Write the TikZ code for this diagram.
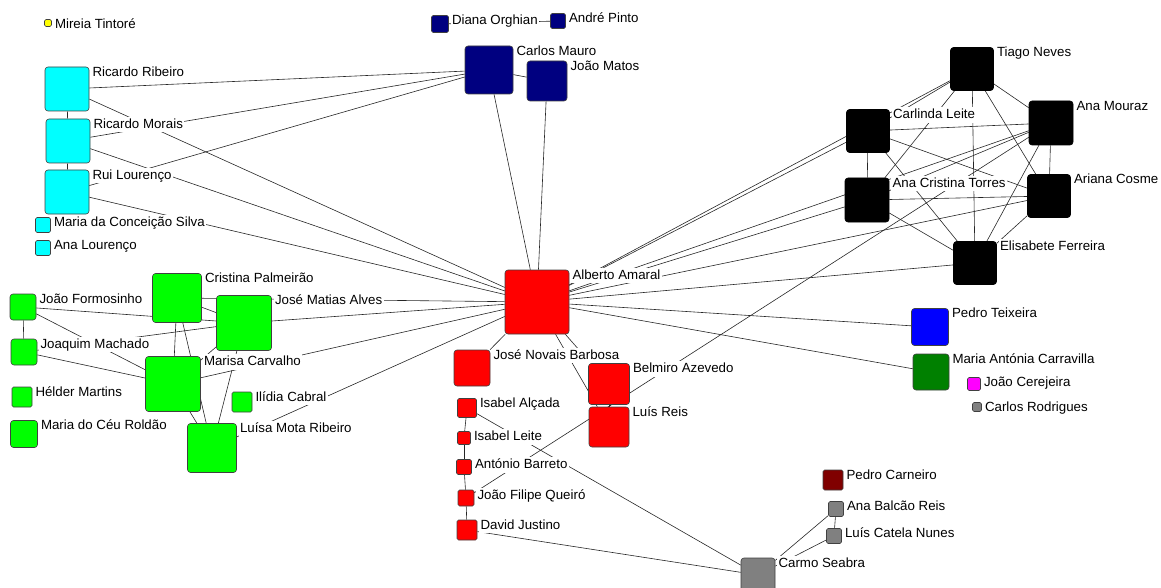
\documentclass[tikz,border=0pt]{standalone}
\usepackage{fontspec}
\setmainfont{Liberation Sans}
\usetikzlibrary{backgrounds}

\definecolor{cyanbox}{RGB}{0,255,255}
\definecolor{navybox}{RGB}{0,0,128}
\definecolor{redbox}{RGB}{255,0,0}
\definecolor{greenbox}{RGB}{0,255,0}
\definecolor{bluebox}{RGB}{0,0,255}
\definecolor{dkgreenbox}{RGB}{0,128,0}
\definecolor{magentabox}{RGB}{255,0,255}
\definecolor{yellowbox}{RGB}{255,255,0}
\definecolor{maroonbox}{RGB}{128,0,0}
\definecolor{graybox}{RGB}{128,128,128}

\begin{document}
\begin{tikzpicture}[x=1pt, y=-1pt]
	\tikzset{nd/.style={rectangle, draw=black!75, line width=0.6pt, rounded corners=3pt, inner sep=0pt, minimum size=#1},
		sm/.style={rounded corners=1.5pt},
		lbl/.style={anchor=north west, fill=white, inner sep=1.5pt, text height=10pt, text depth=2.5pt, font=\fontsize{13.3}{15}\selectfont, xshift=1.5pt, yshift=2pt},
		ed/.style={draw=black!85, line width=0.6pt}};
	\useasboundingbox (0,0) rectangle (1161,588);

	% isolated
	\node[nd=7pt, sm, fill=yellowbox, label={[lbl]north east:Mireia Tintoré}] (mireia) at (48,23) {};

	% cyan group
	\node[nd=44pt, fill=cyanbox, label={[lbl]north east:Ricardo Ribeiro}] (ricrib) at (67,89) {};
	\node[nd=44pt, fill=cyanbox, label={[lbl]north east:Ricardo Morais}] (ricmor) at (68,141) {};
	\node[nd=44pt, fill=cyanbox, label={[lbl]north east:Rui Lourenço}] (ruilou) at (67,192) {};
	\node[nd=15pt, sm, fill=cyanbox, label={[lbl]north east:Maria da Conceição Silva}] (mcsilva) at (43,225) {};
	\node[nd=15pt, sm, fill=cyanbox, label={[lbl]north east:Ana Lourenço}] (analou) at (43,248) {};

	% navy group
	\node[nd=17pt, sm, fill=navybox, label={[lbl]north east:Diana Orghian}] (diana) at (440,24) {};
	\node[nd=15pt, sm, fill=navybox, label={[lbl]north east:André Pinto}] (andre) at (558,21) {};
	\node[nd=48pt, fill=navybox, label={[lbl]north east:Carlos Mauro}] (cmauro) at (489,70) {};
	\node[nd=40pt, fill=navybox, label={[lbl]north east:João Matos}] (jmatos) at (547,81) {};

	% black group
	\node[nd=43pt, fill=black, draw=black, label={[lbl]north east:Tiago Neves}] (tiago) at (972,69) {};
	\node[nd=43pt, fill=black, draw=black, label={[lbl]north east:Carlinda Leite}] (carlinda) at (868,131) {};
	\node[nd=44pt, fill=black, draw=black, label={[lbl]north east:Ana Mouraz}] (mouraz) at (1051,123) {};
	\node[nd=44pt, fill=black, draw=black, label={[lbl]north east:Ana Cristina Torres}] (actorres) at (867,200) {};
	\node[nd=43pt, fill=black, draw=black, label={[lbl]north east:Ariana Cosme}] (ariana) at (1049,196) {};
	\node[nd=43pt, fill=black, draw=black, label={[lbl]north east:Elisabete Ferreira}] (elisabete) at (975,263) {};

	% red group
	\node[nd=64pt, fill=redbox, label={[lbl]north east:Alberto Amaral}] (alberto) at (537,302) {};
	\node[nd=36pt, fill=redbox, label={[lbl]north east:José Novais Barbosa}] (jnovais) at (472,368) {};
	\node[nd=41pt, fill=redbox, label={[lbl]north east:Belmiro Azevedo}] (belmiro) at (609,384) {};
	\node[nd=40pt, fill=redbox, label={[lbl]north east:Luís Reis}] (luisreis) at (609,427) {};
	\node[nd=19pt, sm, fill=redbox, label={[lbl]north east:Isabel Alçada}] (ialcada) at (467,408) {};
	\node[nd=13pt, sm, fill=redbox, label={[lbl]north east:Isabel Leite}] (ileite) at (464,438) {};
	\node[nd=15pt, sm, fill=redbox, label={[lbl]north east:António Barreto}] (abarreto) at (464,467) {};
	\node[nd=16pt, sm, fill=redbox, label={[lbl]north east:João Filipe Queiró}] (jfq) at (466,498) {};
	\node[nd=20pt, sm, fill=redbox, label={[lbl]north east:David Justino}] (djustino) at (467,530) {};

	% green group
	\node[nd=49pt, fill=greenbox, label={[lbl]north east:Cristina Palmeirão}] (cpalm) at (177,298) {};
	\node[nd=26pt, fill=greenbox, label={[lbl]north east:João Formosinho}] (jform) at (23,307) {};
	\node[nd=55pt, fill=greenbox, label={[lbl]north east:José Matias Alves}] (jmalves) at (244,323) {};
	\node[nd=26pt, fill=greenbox, label={[lbl]north east:Joaquim Machado}] (jmach) at (24,352) {};
	\node[nd=55pt, fill=greenbox, label={[lbl]north east:Marisa Carvalho}] (marisa) at (173,384) {};
	\node[nd=20pt, sm, fill=greenbox, label={[lbl]north east:Hélder Martins}] (helder) at (22,397) {};
	\node[nd=20pt, sm, fill=greenbox, label={[lbl]north east:Ilídia Cabral}] (ilidia) at (242,402) {};
	\node[nd=27pt, fill=greenbox, label={[lbl]north east:Maria do Céu Roldão}] (mceu) at (24,434) {};
	\node[nd=49pt, fill=greenbox, label={[lbl]north east:Luísa Mota Ribeiro}] (luisa) at (212,448) {};

	% others
	\node[nd=37pt, fill=bluebox, label={[lbl]north east:Pedro Teixeira}] (pteixeira) at (930,327) {};
	\node[nd=36pt, fill=dkgreenbox, label={[lbl]north east:Maria Antónia Carravilla}] (mac) at (931,372) {};
	\node[nd=13pt, sm, fill=magentabox, label={[lbl]north east:João Cerejeira}] (jcerejeira) at (974,384) {};
	\node[nd=9pt, sm, fill=graybox, label={[lbl]north east:Carlos Rodrigues}] (crodrigues) at (977,407) {};
	\node[nd=20pt, sm, fill=maroonbox, label={[lbl]north east:Pedro Carneiro}] (pcarneiro) at (833,480) {};
	\node[nd=15pt, sm, fill=graybox, label={[lbl]north east:Ana Balcão Reis}] (abalcao) at (836,509) {};
	\node[nd=15pt, sm, fill=graybox, label={[lbl]north east:Luís Catela Nunes}] (lcatela) at (834,536) {};
	\node[nd=34pt, fill=graybox, label={[lbl]north east:Carmo Seabra}] (carmo) at (758,575) {};

	\begin{scope}[on background layer]
		\draw[ed] (ricrib) -- (ricmor);
		\draw[ed] (ricmor) -- (ruilou);
		\draw[ed] (ricrib) -- (cmauro);
		\draw[ed] (ricmor) -- (cmauro);
		\draw[ed] (ruilou) -- (cmauro);
		\draw[ed] (ricrib) -- (alberto);
		\draw[ed] (ricmor) -- (alberto);
		\draw[ed] (ruilou) -- (alberto);

		\draw[ed] (diana) -- (andre);
		\draw[ed] (cmauro) -- (jmatos);
		\draw[ed] (cmauro) -- (alberto);
		\draw[ed] (jmatos) -- (alberto);

		\draw[ed] (tiago) -- (carlinda);
		\draw[ed] (tiago) -- (mouraz);
		\draw[ed] (tiago) -- (actorres);
		\draw[ed] (tiago) -- (ariana);
		\draw[ed] (tiago) -- (elisabete);
		\draw[ed] (carlinda) -- (mouraz);
		\draw[ed] (carlinda) -- (actorres);
		\draw[ed] (carlinda) -- (ariana);
		\draw[ed] (carlinda) -- (elisabete);
		\draw[ed] (mouraz) -- (actorres);
		\draw[ed] (mouraz) -- (ariana);
		\draw[ed] (mouraz) -- (elisabete);
		\draw[ed] (actorres) -- (ariana);
		\draw[ed] (actorres) -- (elisabete);
		\draw[ed] (ariana) -- (elisabete);

		\draw[ed] (tiago) -- (alberto);
		\draw[ed] (carlinda) -- (alberto);
		\draw[ed] (mouraz) -- (alberto);
		\draw[ed] (actorres) -- (alberto);
		\draw[ed] (ariana) -- (alberto);
		\draw[ed] (elisabete) -- (alberto);
		\draw[ed] (jfq) -- (mouraz);

		\draw[ed] (alberto) -- (jnovais);
		\draw[ed] (alberto) -- (belmiro);
		\draw[ed] (alberto) -- (luisreis);
		\draw[ed] (belmiro) -- (luisreis);
		\draw[ed] (alberto) -- (pteixeira);
		\draw[ed] (alberto) -- (mac);

		\draw[ed] (ialcada) -- (ileite);
		\draw[ed] (ileite) -- (abarreto);
		\draw[ed] (abarreto) -- (jfq);
		\draw[ed] (jfq) -- (djustino);
		\draw[ed] (ialcada) -- (carmo);
		\draw[ed] (djustino) -- (carmo);

		\draw[ed] (carmo) -- (abalcao);
		\draw[ed] (carmo) -- (lcatela);
		\draw[ed] (abalcao) -- (lcatela);

		\draw[ed] (jform) -- (jmach);
		\draw[ed] (jform) -- (jmalves);
		\draw[ed] (jform) -- (marisa);
		\draw[ed] (jmach) -- (marisa);
		\draw[ed] (jmach) -- (jmalves);
		\draw[ed] (cpalm) -- (jmalves);
		\draw[ed] (cpalm) -- (marisa);
		\draw[ed] (cpalm) -- (luisa);
		\draw[ed] (cpalm) -- (alberto);
		\draw[ed] (jmalves) -- (marisa);
		\draw[ed] (jmalves) -- (luisa);
		\draw[ed] (jmalves) -- (alberto);
		\draw[ed] (marisa) -- (luisa);
		\draw[ed] (marisa) -- (alberto);
		\draw[ed] (luisa) -- (alberto);
	\end{scope}
\end{tikzpicture}
\end{document}
